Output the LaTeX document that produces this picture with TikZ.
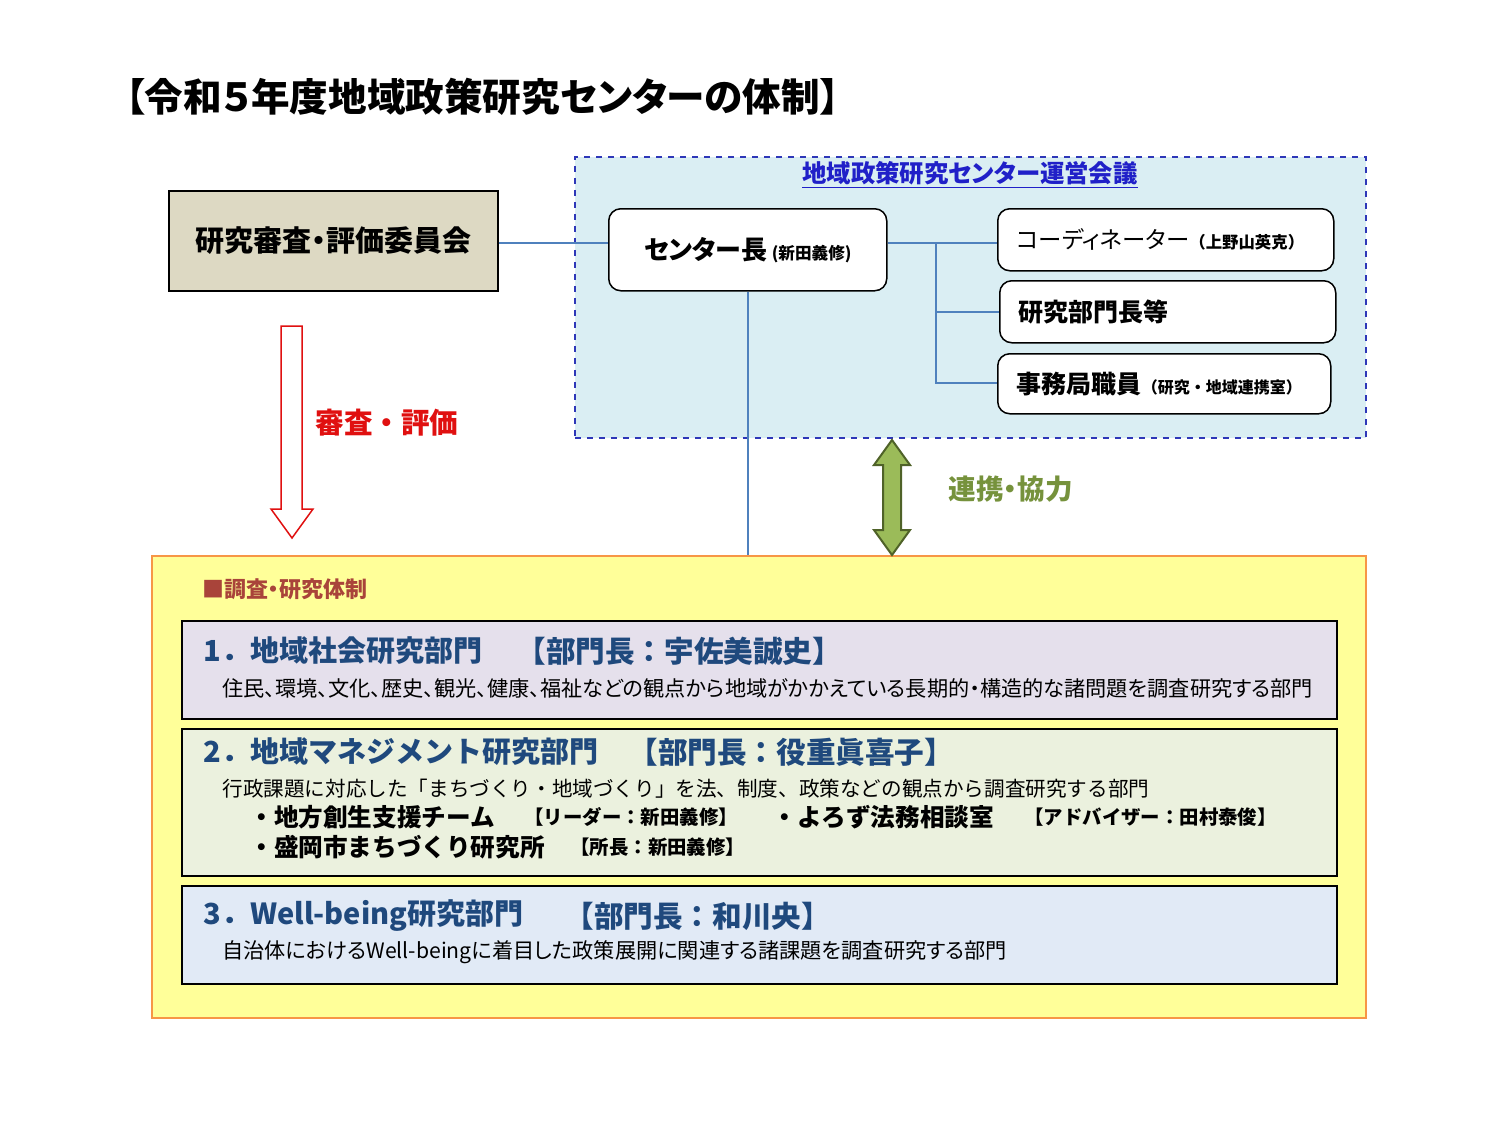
\documentclass[tikz,border=0pt]{standalone}
\usepackage{fontspec}
\setmainfont{Noto Sans CJK JP}[RawFeature=+palt]
\newfontfamily\jpf{Noto Sans CJK JP}
\usetikzlibrary{calc}
\definecolor{tanc}{HTML}{DDD9C3}
\definecolor{panelc}{HTML}{DAEEF3}
\definecolor{dashblue}{HTML}{2E37B8}
\definecolor{titleblue}{HTML}{2020C8}
\definecolor{connc}{HTML}{4F81BD}
\definecolor{yelc}{HTML}{FFFF99}
\definecolor{orngc}{HTML}{F79646}
\definecolor{lavc}{HTML}{E5E0EC}
\definecolor{sagec}{HTML}{EBF1DE}
\definecolor{palec}{HTML}{E1EAF6}
\definecolor{navyc}{HTML}{1F497D}
\definecolor{olivec}{HTML}{76923C}
\definecolor{brownc}{HTML}{A9443A}
\definecolor{gfill}{HTML}{9BBB59}
\definecolor{gline}{HTML}{4F6228}
\definecolor{redc}{HTML}{E01010}
\tikzset{
  boxbase/.style={anchor=north west, inner sep=0pt, line width=0.75pt},
  rbox/.style={boxbase, draw=black, fill=white, rounded corners=6pt},
  lbox/.style={rbox, inner xsep=9.5pt, text width=149pt, align=left},
  secbox/.style={boxbase, draw=black, minimum width=577.5pt},
  conn/.style={draw=connc, line width=0.75pt},
  lbl/.style={anchor=west, inner sep=0pt},
  sechead/.style={lbl, text=navyc, font=\jpf\fontsize{14.5}{16}\bfseries},
  secbr/.style={lbl, text=navyc, font=\jpf\fontsize{14.8}{16}\bfseries},
  desc/.style={lbl, font=\fontsize{10.6}{12}\selectfont},
  item/.style={lbl, font=\jpf\fontsize{12.3}{14}\bfseries},
  itembr/.style={lbl, font=\jpf\fontsize{9.7}{11}\bfseries},
}
\begin{document}
\begin{tikzpicture}[x=0.5pt,y=-0.5pt]
\useasboundingbox (0,0) rectangle (1500,1125);
\fill[white] (0,0) rectangle (1500,1125);

% title
\node[lbl] (title) at (125,97) {\fontsize{19.3}{22}\bfseries 【令和５年度地域政策研究センターの体制】};

% review committee
\node[boxbase, draw=black, fill=tanc, minimum width=164.5pt, minimum height=50pt,
      font=\fontsize{14.5}{16}\bfseries] (kenkyu) at (168,190) {研究審査・評価委員会};

% red hollow arrow
\draw[draw=redc, fill=white, line width=0.75pt] (281,326) -- (302,326) -- (302,509) -- (313,509)
   -- (292,538) -- (271,509) -- (281,509) -- cycle;
\node[anchor=center, text=redc, font=\jpf\fontsize{14.3}{16}\bfseries] (shinsa) at (387,423) {審査・評価};

% management council panel
\node[boxbase, draw=dashblue, dashed, fill=panelc, minimum width=395.5pt, minimum height=140.5pt] (panel) at (574,156) {};
\node[anchor=center, text=titleblue, font=\fontsize{12.2}{14}\bfseries] (paneltitle) at (970,175) {\underline{地域政策研究センター運営会議}};

\node[rbox, minimum width=139pt, minimum height=41pt] (center) at (608,208)
  {\fontsize{13}{14}\bfseries センター長\,{\fontsize{8.3}{10}\selectfont (新田義修)}};
\node[lbox, minimum height=31pt] (coord) at (997,208)
  {\fontsize{11.7}{14}\selectfont コーディネーター{\jpf\fontsize{8.2}{10}\bfseries（上野山英克）}};
\node[lbox, minimum height=31pt] (bumon) at (999,280)
  {\fontsize{12.5}{14}\bfseries 研究部門長等};
\node[lbox, minimum height=30pt, text width=147.5pt] (jimu) at (997,353)
  {\fontsize{12.5}{14}\bfseries 事務局職員{\jpf\fontsize{8}{10}\bfseries（研究・地域連携室）}};

% yellow research structure box
\node[boxbase, draw=orngc, fill=yelc, minimum width=607pt, minimum height=231pt] (yellow) at (151,555) {};

% connectors
\coordinate (bus) at (936,243);
\coordinate (busend) at (936,383);
\draw[conn] (kenkyu.east |- bus) -- (center.west |- bus);
\draw[conn] (center.east |- bus) -- (coord.west |- bus);
\draw[conn] (bus) -- (busend) -- (jimu.west |- busend);
\draw[conn] (bus |- bumon.west) -- (bumon.west);
\draw[conn] (center.south) -- (center.south |- yellow.north);

% green double arrow
\coordinate (gtop) at (892,440);
\coordinate (gbot) at (892,555);
\draw[draw=gline, fill=gfill, line width=1pt, line join=miter]
  (gtop) -- ($(gtop)+(18,25)$) -- ($(gtop)+(9,25)$) -- ($(gbot)+(9,-25)$) -- ($(gbot)+(18,-25)$)
  -- (gbot) -- ($(gbot)+(-18,-25)$) -- ($(gbot)+(-9,-25)$) -- ($(gtop)+(-9,25)$) -- ($(gtop)+(-18,25)$) -- cycle;
\node[lbl, text=olivec, font=\fontsize{13.8}{16}\bfseries] (renkei) at (948,489) {連携・協力};

% section header
\node[lbl, text=brownc, font=\fontsize{11}{13}\bfseries] (taisei) at (202,589) {■調査・研究体制};

% section 1
\node[secbox, fill=lavc, minimum height=49pt] (sec1) at (181,620) {};
\node[sechead] (s1h) at (203,651) {1．地域社会研究部門};
\node[secbr] (s1b) at (516,651) {【部門長：宇佐美誠史】};
\node[desc] (s1d) at (222,688) {住民、環境、文化、歴史、観光、健康、福祉などの観点から地域がかかえている長期的・構造的な諸問題を調査研究する部門};

% section 2
\node[secbox, fill=sagec, minimum height=73.5pt] (sec2) at (181,728) {};
\node[sechead] (s2h) at (203,752) {2．地域マネジメント研究部門};
\node[secbr] (s2b) at (628,752) {【部門長：役重眞喜子】};
\node[desc, font=\jpf\fontsize{10.3}{12}\selectfont] (s2d) at (222,789) {行政課題に対応した「まちづくり・地域づくり」を法、制度、政策などの観点から調査研究する部門};
\node[item] (s2i1) at (249,817) {・地方創生支援チーム};
\node[itembr] (s2i1b) at (524,817) {【リーダー：新田義修】};
\node[item] (s2i2) at (772,817) {・よろず法務相談室};
\node[itembr] (s2i2b) at (1024,817) {【アドバイザー：田村泰俊】};
\node[item] (s2i3) at (249,847) {・盛岡市まちづくり研究所};
\node[itembr] (s2i3b) at (570,847) {【所長：新田義修】};

% section 3
\node[secbox, fill=palec, minimum height=49pt] (sec3) at (181,885) {};
\node[sechead] (s3h) at (203,916) {3．Well-being研究部門};
\node[secbr] (s3b) at (564,916) {【部門長：和川央】};
\node[desc] (s3d) at (222,952) {自治体におけるWell-beingに着目した政策展開に関連する諸課題を調査研究する部門};
\end{tikzpicture}
\end{document}
